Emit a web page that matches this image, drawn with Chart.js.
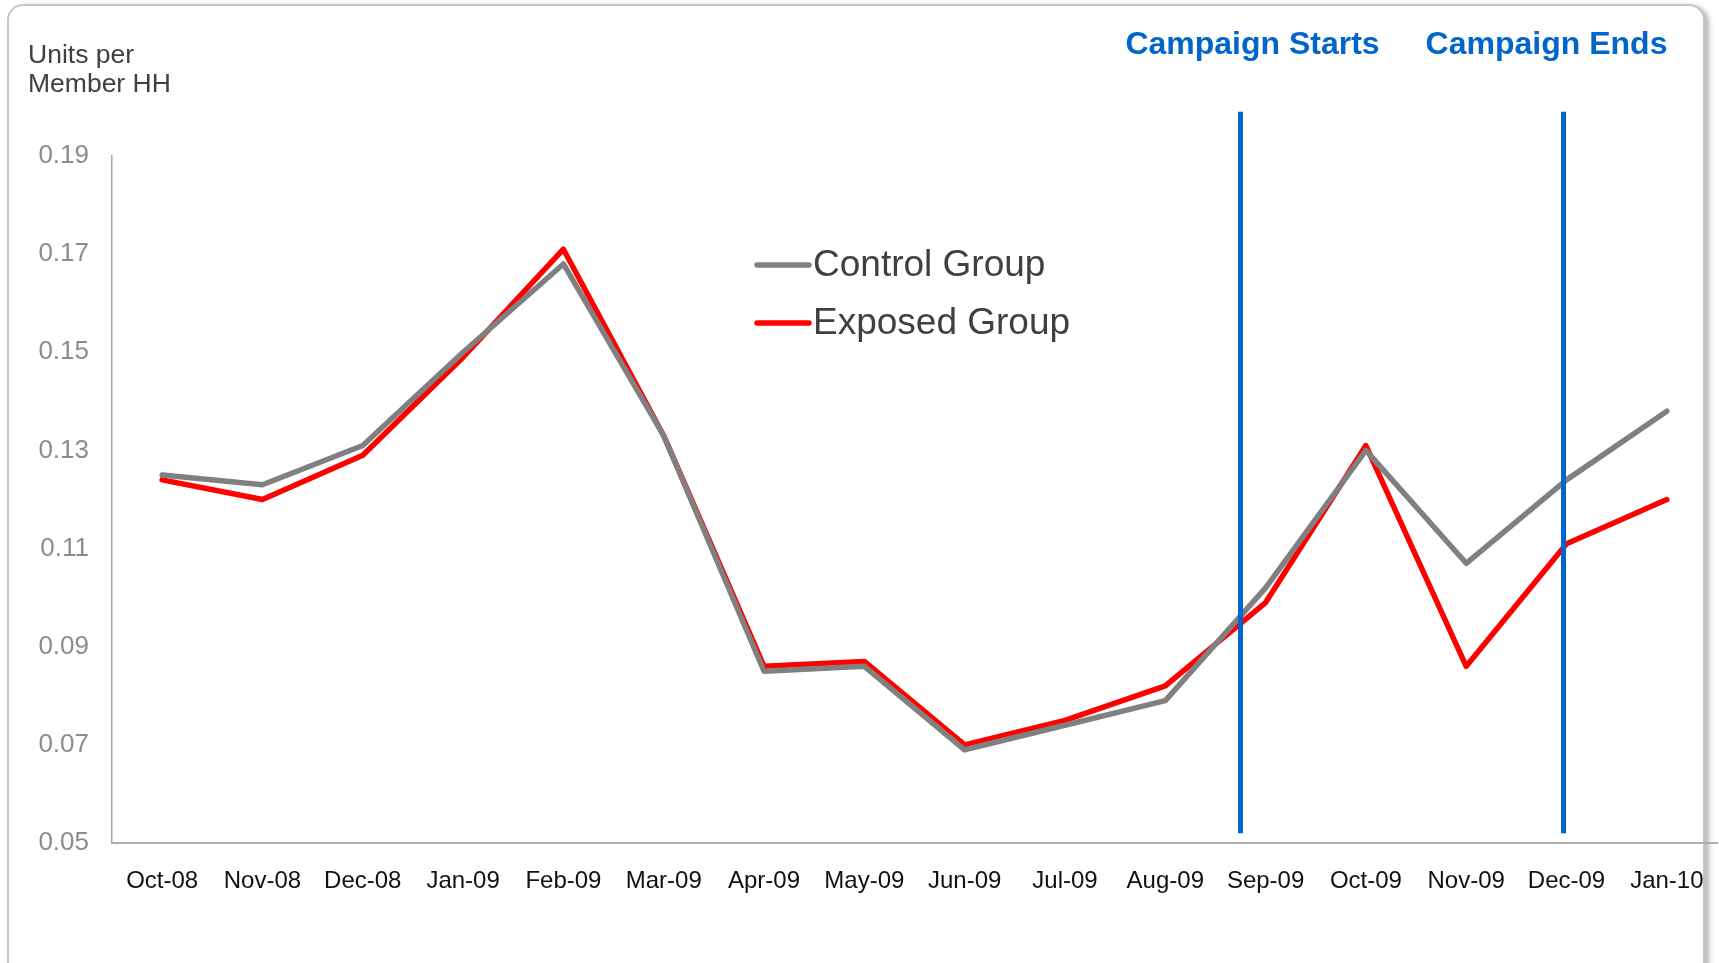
<!DOCTYPE html>
<html>
<head>
<meta charset="utf-8">
<title>Units per Member HH</title>
<script src="https://cdn.jsdelivr.net/npm/chart.js@4.4.1/dist/chart.umd.min.js"></script>
<style>
  html, body { margin: 0; padding: 0; background: #ffffff; }
  body { width: 1719px; height: 963px; position: relative; overflow: hidden; }
  .frame {
    position: absolute; left: 7px; top: 4px; width: 1694px; height: 970px;
    border: 2px solid #c6c6c6; border-radius: 16px; background: #fff;
    box-shadow: 4px 2px 5px rgba(0,0,0,0.28);
  }
  #wrap { position: absolute; left: 0; top: 0; width: 1719px; height: 963px; }
  #chart { display: block; }
</style>
</head>
<body>
<div class="frame"></div>
<div id="wrap"><canvas id="chart" width="1719" height="963"></canvas></div>
<script>
// Months on the horizontal axis
const months = ['Oct-08','Nov-08','Dec-08','Jan-09','Feb-09','Mar-09','Apr-09','May-09',
                'Jun-09','Jul-09','Aug-09','Sep-09','Oct-09','Nov-09','Dec-09','Jan-10'];

// Units per member household
const controlGroup = [0.125, 0.123, 0.131, 0.150, 0.168, 0.133, 0.085, 0.086,
                      0.069, 0.074, 0.079, 0.102, 0.130, 0.107, 0.124, 0.138];
const exposedGroup = [0.124, 0.120, 0.129, 0.149, 0.171, 0.133, 0.086, 0.087,
                      0.070, 0.075, 0.082, 0.099, 0.131, 0.086, 0.111, 0.120];

// Value axis ticks
const yTicks = [0.05, 0.07, 0.09, 0.11, 0.13, 0.15, 0.17, 0.19];

// Campaign window markers (position on the month axis)
const markerLabels = ['Campaign Starts', 'Campaign Ends'];
const markerPositions = [10.75, 13.97];

const FONT = '"Liberation Sans", Arial, sans-serif';

// Axis caption, campaign markers and legend drawn on the canvas
const annotations = {
  id: 'annotations',
  afterDatasetsDraw(chart) {
    const { ctx, scales: { x, y } } = chart;
    ctx.save();

    // campaign lines
    ctx.strokeStyle = '#0066CC';
    ctx.lineWidth = 5;
    const top = y.getPixelForValue(0.199);
    const bottom = y.getPixelForValue(0.052);
    const textOffsets = [12, -17];
    markerPositions.forEach((pos, i) => {
      const px = x.getPixelForValue(pos);
      ctx.beginPath();
      ctx.moveTo(px, top);
      ctx.lineTo(px, bottom);
      ctx.stroke();
      ctx.fillStyle = '#0066CC';
      ctx.font = 'bold 32px ' + FONT;
      ctx.textAlign = 'center';
      ctx.textBaseline = 'middle';
      ctx.fillText(markerLabels[i], px + textOffsets[i], 45);
    });

    // axis caption
    ctx.fillStyle = '#404040';
    ctx.font = '26.5px ' + FONT;
    ctx.textAlign = 'left';
    ctx.textBaseline = 'middle';
    ctx.fillText('Units per', 28, 56);
    ctx.fillText('Member HH', 28, 85);

    // legend
    chart.data.datasets.forEach((ds, i) => {
      const ly = 265 + i * 58;
      ctx.strokeStyle = ds.borderColor;
      ctx.lineWidth = 5.5;
      ctx.lineCap = 'round';
      ctx.beginPath();
      ctx.moveTo(757, ly);
      ctx.lineTo(809, ly);
      ctx.stroke();
      ctx.fillStyle = '#404040';
      ctx.font = '37px ' + FONT;
      ctx.textAlign = 'left';
      ctx.textBaseline = 'middle';
      ctx.fillText(ds.label, 813, ly + 1);
    });
    ctx.restore();
  }
};

new Chart(document.getElementById('chart'), {
  type: 'line',
  data: {
    labels: months,
    datasets: [
      {
        label: 'Control Group',
        data: controlGroup,
        borderColor: '#808080',
        borderWidth: 5.5,
        pointRadius: 0,
        tension: 0,
        borderJoinStyle: 'round',
        borderCapStyle: 'round'
      },
      {
        label: 'Exposed Group',
        data: exposedGroup,
        borderColor: '#FF0000',
        borderWidth: 5.5,
        pointRadius: 0,
        tension: 0,
        borderJoinStyle: 'round',
        borderCapStyle: 'round'
      }
    ]
  },
  options: {
    responsive: false,
    maintainAspectRatio: false,
    animation: false,
    devicePixelRatio: 1,
    layout: { padding: { top: 156, right: 2, left: 0, bottom: 0 } },
    plugins: {
      legend: { display: false },
      tooltip: { enabled: false }
    },
    scales: {
      x: {
        type: 'category',
        offset: true,
        grid: { display: false, drawTicks: false },
        border: { display: true, color: '#AFAFAF', width: 2 },
        ticks: {
          color: '#111111',
          font: { family: FONT, size: 24 },
          padding: 24,
          maxRotation: 0,
          autoSkip: false
        },
        afterFit(scale) {
          scale.height = 120;
          scale.paddingLeft = 0;
          scale.paddingRight = 0;
        }
      },
      y: {
        min: 0.05,
        max: 0.19,
        grid: { display: false, drawTicks: false },
        border: { display: true, color: '#A8A8A8', width: 1.5 },
        afterBuildTicks(scale) { scale.ticks = yTicks.map(v => ({ value: v })); },
        ticks: {
          color: '#8C8C8C',
          font: { family: FONT, size: 26 },
          padding: 23,
          callback: v => v.toFixed(2)
        },
        afterFit(scale) { scale.width = 112; }
      }
    }
  },
  plugins: [annotations]
});
</script>
</body>
</html>
